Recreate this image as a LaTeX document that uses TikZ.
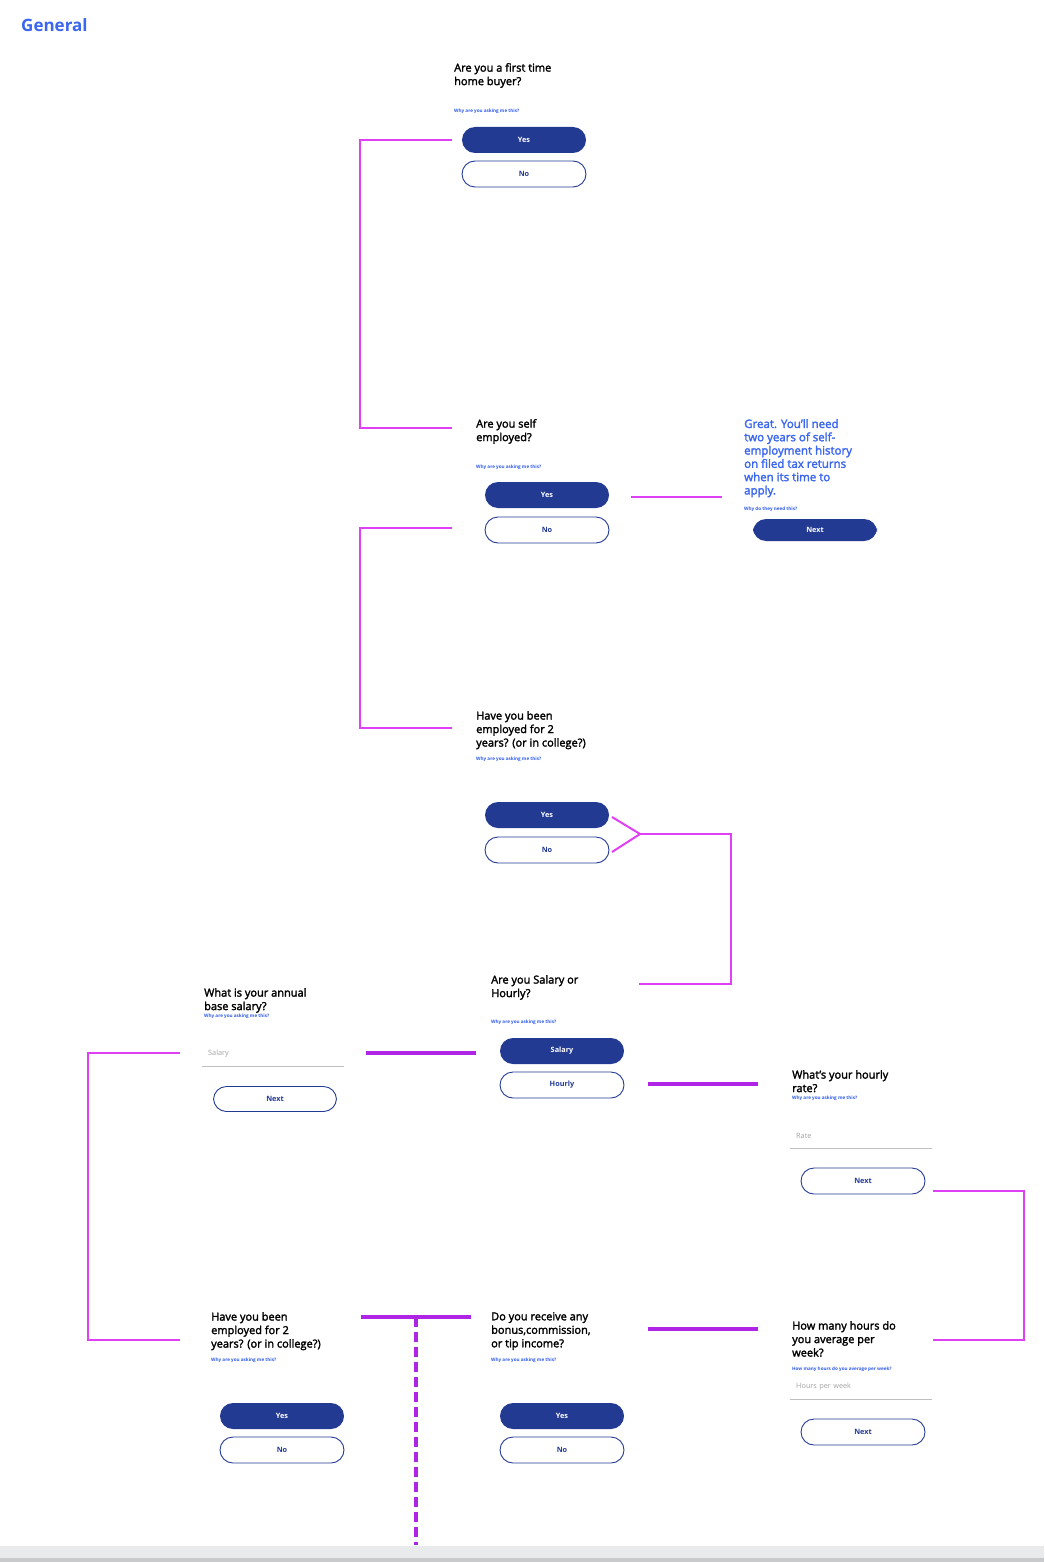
\documentclass[tikz,border=0pt]{standalone}
\usepackage{fontspec}
\setmainfont{Open Sans}
\newfontfamily\qfam{Open Sans}[FakeBold=2.2]
\usetikzlibrary{calc}
\definecolor{btnblue}{HTML}{233A93}
\definecolor{linkblue}{HTML}{2F5BEA}
\definecolor{headblue}{HTML}{3A66F0}
\definecolor{flowpink}{HTML}{E040F5}
\definecolor{flowpurple}{HTML}{B024E6}
\definecolor{holdergray}{HTML}{A3A3A3}
\definecolor{barlight}{HTML}{E9EAEB}
\definecolor{bardark}{HTML}{C9CACB}
\tikzset{
  question/.style={anchor=north west, inner sep=0pt, align=left,
    font=\qfam\fontsize{11}{13.5}\selectfont},
  answer/.style={anchor=north west, inner sep=0pt, align=left, text=headblue,
    font=\qfam\fontsize{11.5}{13.3}\selectfont},
  whylink/.style={anchor=west, inner sep=0pt, text=linkblue,
    font=\fontsize{4.6}{5}\selectfont\bfseries},
  btn/.style={rounded corners=13pt, minimum width=124pt, minimum height=26pt,
    inner sep=0pt, font=\fontsize{7.3}{8}\selectfont\bfseries},
  yesbtn/.style={btn, fill=btnblue, text=white},
  nobtn/.style={btn, draw=btnblue, line width=0.9pt, fill=white, text=btnblue},
  field/.style={anchor=west, minimum width=142pt, minimum height=24pt,
    inner xsep=6pt, inner ysep=0pt, text=holdergray, align=left,
    text width=130pt, font=\fontsize{7.3}{8}\selectfont},
  fieldline/.style={draw=holdergray!70, line width=0.8pt},
  flow/.style={draw=flowpink, line width=2pt},
  flowthick/.style={draw=flowpurple, line width=3.2pt},
}

\begin{document}
\begin{tikzpicture}[x=1pt,y=-1pt]
  \useasboundingbox (0,0) rectangle (1044,1562);
  \fill[white] (0,0) rectangle (1044,1562);

  \node[anchor=west, inner sep=0pt, text=headblue, font=\fontsize{17}{20}\selectfont\bfseries] (title) at (21,25) {General};

  \node[question] (q1) at (454,63) {Are you a first time\\home buyer?};
  \node[whylink] (why1) at (454,111) {Why are you asking me this?};
  \node[yesbtn] (yes1) at (524,140) {Yes};
  \node[nobtn] (no1) at (524,174) {No};

  \node[question] (q2) at (476,419) {Are you self\\employed?};
  \node[whylink] (why2) at (476,467) {Why are you asking me this?};
  \node[yesbtn] (yes2) at (547,495) {Yes};
  \node[nobtn] (no2) at (547,530) {No};

  \node[answer] (self) at (744,419) {Great. You’ll need\\two years of self-\\employment history\\on filed tax returns\\when its time to\\apply.};
  \node[whylink] (whyself) at (744,509) {Why do they need this?};
  \node[yesbtn, minimum height=22pt] (nextself) at (815,530) {Next};

  \node[question] (q3) at (476,711) {Have you been\\employed for 2\\years? (or in college?)};
  \node[whylink] (why3) at (476,759) {Why are you asking me this?};
  \node[yesbtn] (yes3) at (547,815) {Yes};
  \node[nobtn] (no3) at (547,850) {No};

  \node[question] (q4) at (491,975) {Are you Salary or\\Hourly?};
  \node[whylink] (why4) at (491,1022) {Why are you asking me this?};
  \node[yesbtn] (salary4) at (562,1051) {Salary};
  \node[nobtn] (hourly4) at (562,1085) {Hourly};

  \node[question] (q5) at (204,988) {What is your annual\\base salary?};
  \node[whylink] (why5) at (204,1016) {Why are you asking me this?};
  \node[field] (salfield) at (202,1054) {Salary};
  \draw[fieldline] (salfield.south west) -- (salfield.south east);
  \node[nobtn, minimum width=123pt, minimum height=25pt] (next5) at (275,1099) {Next};

  \node[question] (q6) at (792,1070) {What’s your hourly\\rate?};
  \node[whylink] (why6) at (792,1098) {Why are you asking me this?};
  \node[field] (ratefield) at (790,1136) {Rate};
  \draw[fieldline] (ratefield.south west) -- (ratefield.south east);
  \node[nobtn] (next6) at (863,1181) {Next};

  \node[question] (q7) at (211,1312) {Have you been\\employed for 2\\years? (or in college?)};
  \node[whylink] (why7) at (211,1360) {Why are you asking me this?};
  \node[yesbtn] (yes7) at (282,1416) {Yes};
  \node[nobtn] (no7) at (282,1450) {No};

  \node[question] (q8) at (491,1312) {Do you receive any\\bonus,commission,\\or tip income?};
  \node[whylink] (why8) at (491,1360) {Why are you asking me this?};
  \node[yesbtn] (yes8) at (562,1416) {Yes};
  \node[nobtn] (no8) at (562,1450) {No};

  \node[question] (q9) at (792,1321) {How many hours do\\you average per\\week?};
  \node[whylink] (why9) at (792,1369) {How many hours do you average per week?};
  \node[field] (hoursfield) at (790,1387) {Hours per week};
  \draw[fieldline] (hoursfield.south west) -- (hoursfield.south east);
  \node[nobtn] (next9) at (863,1432) {Next};

  \coordinate (out1) at (452,140);
  \coordinate (in2) at (452,428);
  \coordinate (out2) at (631,497);
  \coordinate (inself) at (722,497);
  \coordinate (out2b) at (452,528);
  \coordinate (in3) at (452,728);
  \coordinate (out3y) at (612,817);
  \coordinate (out3n) at (612,852);
  \coordinate (join3) at (640,834);
  \coordinate (in4) at (639,984);
  \coordinate (out4s) at (476,1053);
  \coordinate (in5) at (366,1053);
  \coordinate (out4h) at (648,1084);
  \coordinate (in6) at (758,1084);
  \coordinate (out5) at (180,1053);
  \coordinate (in7) at (180,1340);
  \coordinate (out6) at (933,1191);
  \coordinate (in9) at (933,1340);
  \coordinate (out7) at (361,1317);
  \coordinate (in8) at (471,1317);
  \coordinate (drop) at (416,1317);
  \coordinate (dropend) at (416,1545);
  \coordinate (out9) at (758,1329);
  \coordinate (in8b) at (648,1329);

  \draw[flow] (out1) -- ++(-92,0) |- (in2);
  \draw[flow] (out2) -- (inself);
  \draw[flow] (out2b) -- ++(-92,0) |- (in3);
  \draw[flow] (out3y) -- (join3) -- (out3n);
  \draw[flow] (join3) -- ++(91,0) |- (in4);
  \draw[flowthick] (out4s) -- (in5);
  \draw[flowthick] (out4h) -- (in6);
  \draw[flow] (out5) -- ++(-92,0) |- (in7);
  \draw[flow] (out6) -- ++(91,0) |- (in9);
  \draw[flowthick] (out7) -- (in8);
  \draw[flowthick, dash pattern=on 10pt off 5pt] (drop) -- (dropend);
  \draw[flowthick] (out9) -- (in8b);

  \fill[barlight] (0,1546) rectangle (1044,1558);
  \fill[bardark] (0,1558) rectangle (1044,1562);
\end{tikzpicture}
\end{document}
